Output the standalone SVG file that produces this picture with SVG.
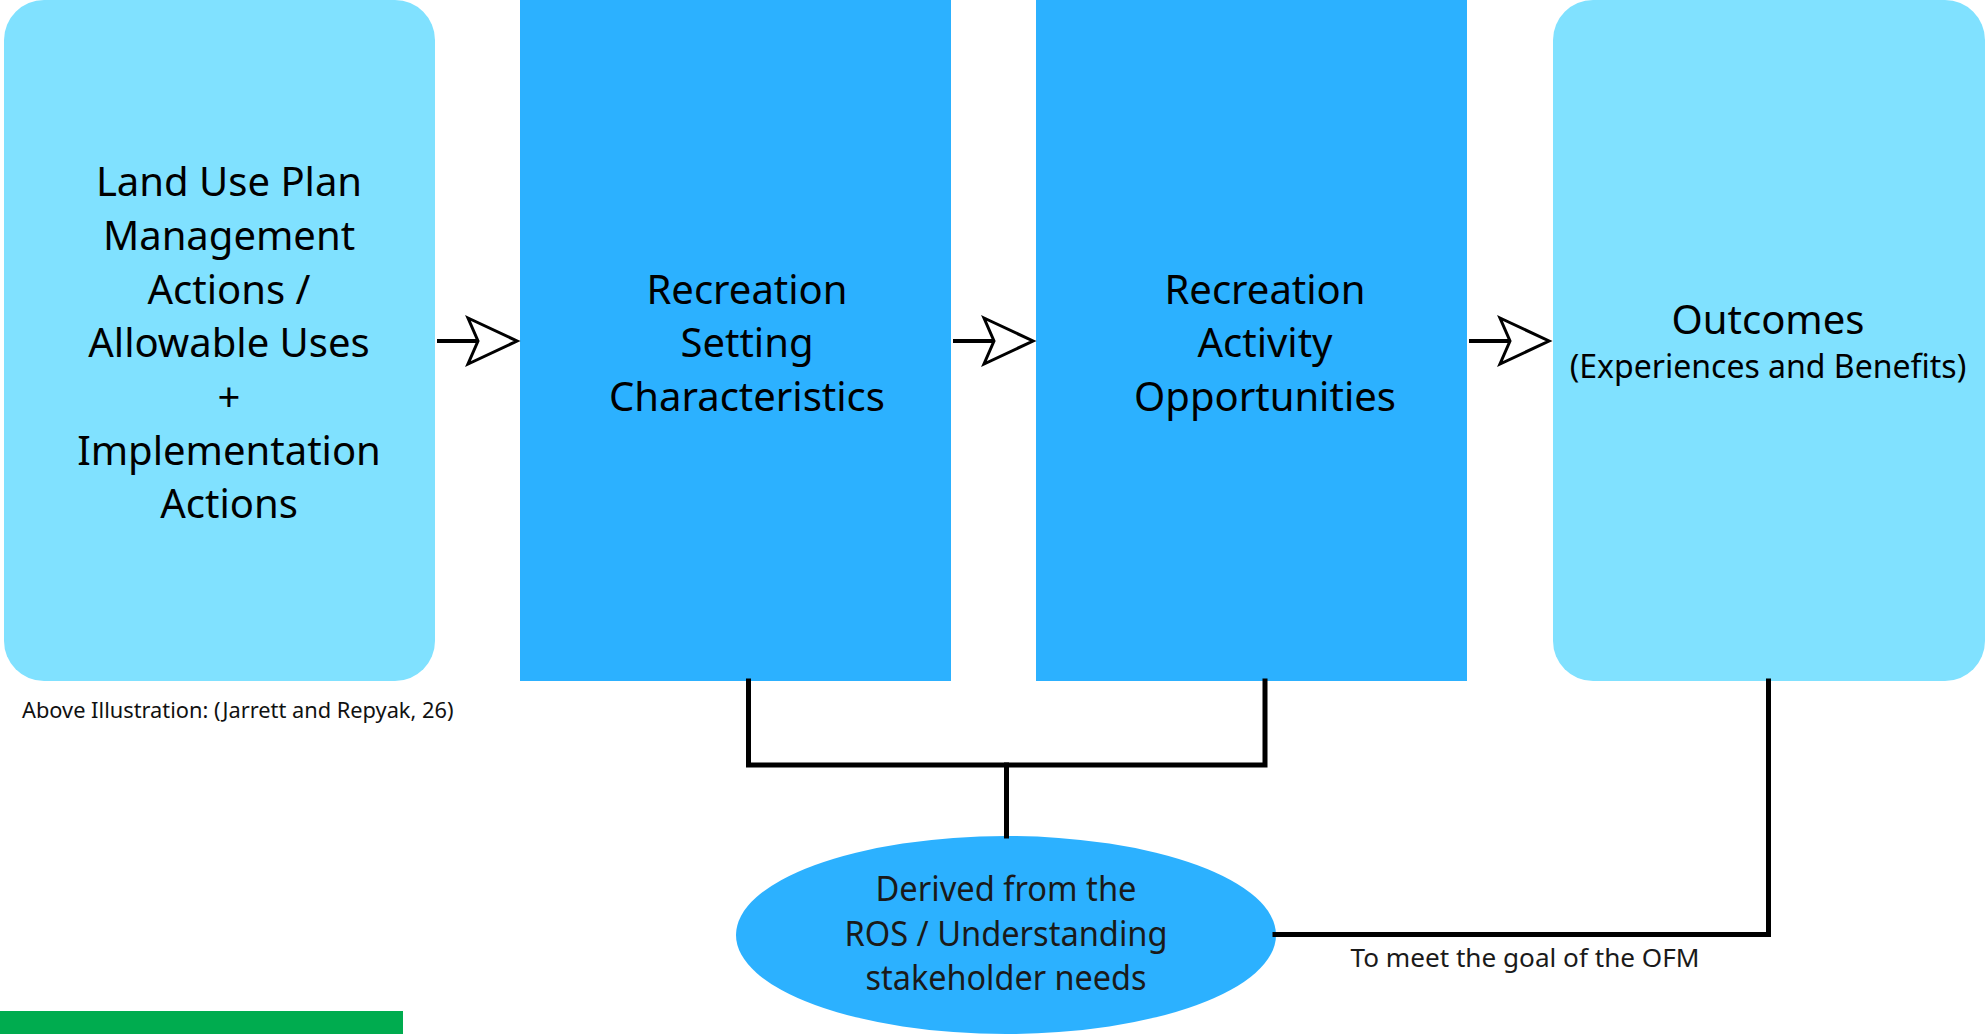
<svg xmlns="http://www.w3.org/2000/svg" width="1985" height="1034" viewBox="0 0 1985 1034">
  <style>
    .light { fill: #80E1FF; }
    .dark { fill: #2CB1FF; }
    .label { font-family: "Noto Sans", "Open Sans", "Liberation Sans", sans-serif; font-size: 40px; fill: #000; text-anchor: middle; }
    .sub { font-size: 32px; }
    .narrow { font-family: "Noto Sans", "Liberation Sans", sans-serif; font-size: 34px; fill: #1a1a1a; text-anchor: middle; }
    .note { font-family: "Noto Sans", "Liberation Sans", sans-serif; font-size: 21.8px; fill: #111; }
    .wire { fill: none; stroke: #000; stroke-width: 5; stroke-linecap: square; }
    .shaft { fill: none; stroke: #000; stroke-width: 4; }
    .head { fill: #fff; stroke: #000; stroke-width: 3; stroke-linejoin: miter; }
  </style>

  <!-- process boxes -->
  <g id="land-use-plan">
    <rect class="light" x="4" y="0" width="431" height="681" rx="40" ry="40"/>
    <text class="label" x="229" y="196">Land Use Plan</text>
    <text class="label" x="229" y="250">Management</text>
    <text class="label" x="229" y="304">Actions /</text>
    <text class="label" x="229" y="357">Allowable Uses</text>
    <text class="label" x="229" y="411">+</text>
    <text class="label" x="229" y="465">Implementation</text>
    <text class="label" x="229" y="518">Actions</text>
  </g>

  <g id="setting-characteristics">
    <rect class="dark" x="520" y="0" width="431" height="681"/>
    <text class="label" x="747" y="304">Recreation</text>
    <text class="label" x="747" y="357">Setting</text>
    <text class="label" x="747" y="411">Characteristics</text>
  </g>

  <g id="activity-opportunities">
    <rect class="dark" x="1036" y="0" width="431" height="681"/>
    <text class="label" x="1265" y="304">Recreation</text>
    <text class="label" x="1265" y="357">Activity</text>
    <text class="label" x="1265" y="411">Opportunities</text>
  </g>

  <g id="outcomes">
    <rect class="light" x="1553" y="0" width="432" height="681" rx="40" ry="40"/>
    <text class="label" x="1768" y="334">Outcomes</text>
    <text class="label sub" x="1768" y="378">(Experiences and Benefits)</text>
  </g>

  <g id="ros-source">
    <ellipse class="dark" cx="1006" cy="935" rx="270" ry="99"/>
    <text class="narrow" x="1006" y="901" textLength="261" lengthAdjust="spacingAndGlyphs">Derived from the</text>
    <text class="narrow" x="1006" y="946" textLength="323" lengthAdjust="spacingAndGlyphs">ROS / Understanding</text>
    <text class="narrow" x="1006" y="990" textLength="281" lengthAdjust="spacingAndGlyphs">stakeholder needs</text>
  </g>

  <!-- connectors -->
  <g id="connectors">
    <line class="shaft" x1="437" y1="341" x2="478" y2="341"/>
    <polygon class="head" points="468,318 517,341 468,364 478,341"/>
    <line class="shaft" x1="953" y1="341" x2="994" y2="341"/>
    <polygon class="head" points="984,318 1033,341 984,364 994,341"/>
    <line class="shaft" x1="1469" y1="341" x2="1510" y2="341"/>
    <polygon class="head" points="1500,318 1549,341 1500,364 1510,341"/>

    <polyline class="wire" points="748.5,681 748.5,765 1265,765 1265,681"/>
    <line class="wire" x1="1006.5" y1="765" x2="1006.5" y2="836"/>
    <polyline class="wire" points="1275,934.5 1768.5,934.5 1768.5,681"/>
    <text class="narrow" x="1525" y="967" style="font-size:26px" textLength="349" lengthAdjust="spacingAndGlyphs">To meet the goal of the OFM</text>
  </g>

  <text class="note" x="22" y="718">Above Illustration: (Jarrett and Repyak, 26)</text>
  <rect x="0" y="1011" width="403" height="23" fill="#00AC4F"/>
</svg>
